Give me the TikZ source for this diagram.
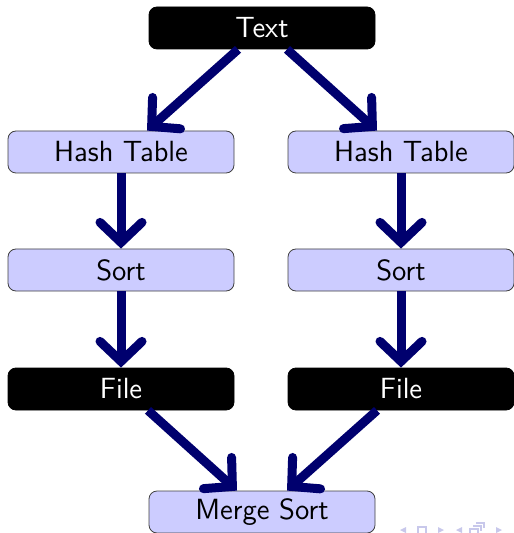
\documentclass[tikz,border=0pt]{standalone}
\usetikzlibrary{calc,arrows.meta}
\definecolor{arr}{RGB}{0,0,110}
\definecolor{lav}{RGB}{204,204,255}
\definecolor{nav}{RGB}{200,200,235}
\begin{document}
\begin{tikzpicture}[x=0.5pt,y=-0.5pt,
  box/.style={rounded corners=4pt, minimum width=113pt, minimum height=21pt, inner sep=0pt,
    font=\fontsize{14.6}{16}\sffamily, line width=0.4pt},
  lbox/.style={box, fill=lav, draw=black!75},
  dbox/.style={box, fill=black, draw=black, text=white},
  conn/.style={-{Straight Barb[length=10pt,width=21pt,line cap=round,line join=miter]}, line width=4.5pt, draw=arr}]
\useasboundingbox (0,0) rectangle (513,533);
\node[dbox] (t) at (262,28) {Text};
\node[lbox] (h1) at (121,152) {Hash Table};
\node[lbox] (h2) at (401,152) {Hash Table};
\node[lbox] (s1) at (121,270) {Sort};
\node[lbox] (s2) at (401,270) {Sort};
\node[dbox] (f1) at (121,389) {File};
\node[dbox] (f2) at (401,389) {File};
\node[lbox] (m) at (262,512) {Merge Sort};
\draw[conn] ([xshift=-12pt]t.south) -- ([xshift=13pt]h1.north);
\draw[conn] ([xshift=12.5pt]t.south) -- ([xshift=-12pt]h2.north);
\draw[conn] (h1) -- (s1);
\draw[conn] (h2) -- (s2);
\draw[conn] (s1) -- (f1);
\draw[conn] (s2) -- (f2);
\draw[conn] ([xshift=13.5pt]f1.south) -- ([xshift=-12.5pt]m.north);
\draw[conn] ([xshift=-12pt]f2.south) -- ([xshift=12.5pt]m.north);
% navigation symbols
\fill[nav] (406,527) -- (400,530) -- (406,533) -- cycle;
\draw[nav, line width=0.6pt] (418,527) rectangle (426,534);
\fill[nav] (438,527) -- (444,530) -- (438,533) -- cycle;
\fill[nav] (462,527) -- (456,530) -- (462,533) -- cycle;
\draw[nav, line width=0.6pt] (470,529) rectangle (478,534) (473,526) -- (481,526) -- (481,531) (476,523) -- (484,523) -- (484,528);
\fill[nav] (496,527) -- (502,530) -- (496,533) -- cycle;
\end{tikzpicture}
\end{document}
